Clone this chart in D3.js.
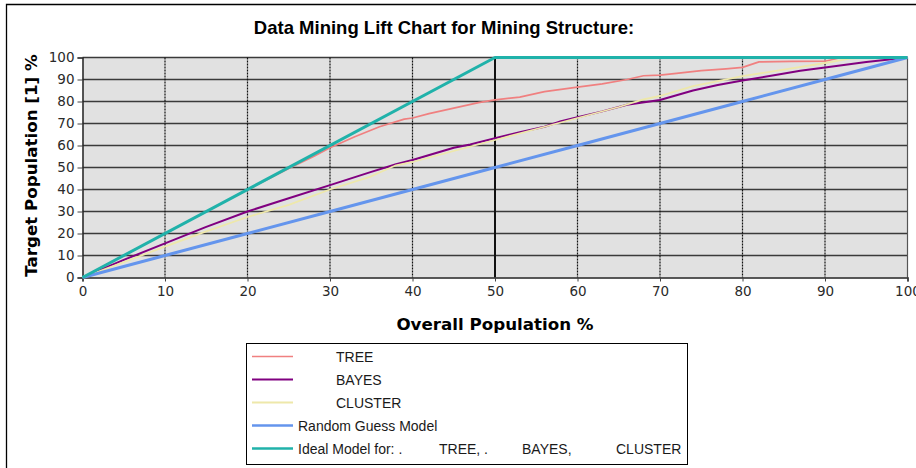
<!DOCTYPE html>
<html>
<head>
<meta charset="utf-8">
<script src="https://cdn.jsdelivr.net/npm/d3@7"></script>
<style>
  html, body { margin: 0; padding: 0; background: #fff; }
  svg { display: block; }
</style>
</head>
<body>
<div id="chart"></div>
<script>
// lift chart data: overall population % -> target population %
const treeX = [0, 5, 10, 15, 20, 25, 28, 30, 33, 36, 39, 40, 42, 45, 48, 50, 53, 56, 60, 63, 66, 68, 70, 72, 75, 78, 80, 82, 86, 90, 92, 100];
const treeY = [0, 10, 20, 30, 40, 49.5, 55, 59, 64, 68.5, 72, 72.5, 74.5, 77, 79.5, 80.7, 82, 84.5, 86.5, 88, 90, 91.7, 92, 92.8, 94, 94.8, 95.5, 98, 98.2, 98.3, 100, 100];

const bayesX = [0, 5, 10, 15, 20, 25, 30, 35, 38, 40, 45, 47, 50, 53, 56, 58, 60, 63, 66, 70, 74, 77, 80, 84, 87, 90, 95, 100];
const bayesY = [0, 8, 15.5, 23, 30, 36, 42, 48, 51.5, 53.4, 59, 60.5, 63.3, 66, 68.5, 71, 72.8, 75.5, 78.5, 80.7, 85, 87.5, 89.5, 92, 94, 95.5, 98, 100];

const clusterX = [0, 5, 10, 15, 20, 25, 30, 35, 38, 40, 45, 50, 55, 60, 65, 68, 70, 74, 80, 85, 90, 93, 96, 100];
const clusterY = [0, 7, 14, 21, 27.5, 33, 40, 46, 51, 52.5, 57.5, 62.5, 67.5, 72.5, 77.5, 81, 82.5, 87, 91.5, 94.5, 97.5, 99.5, 100, 100];

const randomX = [0, 10, 20, 30, 40, 50, 60, 70, 80, 90, 100];
const randomY = [0, 10, 20, 30, 40, 50, 60, 70, 80, 90, 100];

const idealX = [0, 50, 100];
const idealY = [0, 100, 100];

const ticks = [0, 10, 20, 30, 40, 50, 60, 70, 80, 90, 100];

const zip = (xs, ys) => xs.map((x, i) => [x, ys[i]]);

const series = [
  { name: "TREE", points: zip(treeX, treeY), color: "#f08080", width: 1.7 },
  { name: "BAYES", points: zip(bayesX, bayesY), color: "#800080", width: 2 },
  { name: "CLUSTER", points: zip(clusterX, clusterY), color: "#eee8aa", width: 1.8 },
  { name: "Random Guess Model", points: zip(randomX, randomY), color: "#6495ed", width: 3 },
  { name: "Ideal Model for", points: zip(idealX, idealY), color: "#20b2aa", width: 3 },
];

const width = 916;
const height = 468;
const margin = { top: 57.5, right: 8.5, bottom: 190.5, left: 82.5 };

const svg = d3.select("#chart").append("svg")
  .attr("width", width)
  .attr("height", height);

// outer frame (top + left only are visible)
svg.append("path")
  .attr("d", `M6.5,${height} V4.5 H${width}`)
  .attr("fill", "none")
  .attr("stroke", "#000")
  .attr("stroke-width", 1.3);

const x = d3.scaleLinear().domain([0, 100]).range([margin.left, width - margin.right]);
const y = d3.scaleLinear().domain([0, 100]).range([height - margin.bottom, margin.top]);

svg.append("rect")
  .attr("x", x(0))
  .attr("y", y(100))
  .attr("width", x(100) - x(0))
  .attr("height", y(0) - y(100))
  .attr("fill", "#e1e1e1");

// horizontal grid
svg.append("g")
  .selectAll("line")
  .data(ticks.filter((t) => t > 0))
  .join("line")
  .attr("x1", x(0))
  .attr("x2", x(100))
  .attr("y1", (d) => y(d))
  .attr("y2", (d) => y(d))
  .attr("stroke", "#3a3a3a")
  .attr("stroke-width", 1.4);

// vertical grid, dotted
svg.append("g")
  .selectAll("line")
  .data(ticks.filter((t) => t > 0))
  .join("line")
  .attr("x1", (d) => x(d))
  .attr("x2", (d) => x(d))
  .attr("y1", y(100))
  .attr("y2", y(0))
  .attr("stroke", (d) => (d === 100 ? "#555" : "#111"))
  .attr("stroke-width", (d) => (d === 50 ? 2 : 1.2))
  .attr("stroke-dasharray", (d) => (d === 50 || d === 100 ? null : "2,1"));

const yAxis = svg.append("g")
  .attr("transform", `translate(${x(0)},0)`)
  .call(d3.axisLeft(y).tickValues(ticks).tickSize(5).tickPadding(3));

const xAxis = svg.append("g")
  .attr("transform", `translate(0,${y(0)})`)
  .call(d3.axisBottom(x).tickValues(ticks).tickSize(4).tickPadding(5));

[xAxis, yAxis].forEach((axis) => {
  axis.select(".domain").attr("stroke", "#222").attr("stroke-width", 1.5);
  axis.selectAll(".tick line").attr("stroke", "#444");
  axis.selectAll(".tick text")
    .attr("fill", "#2a2a2a")
    .style("font-family", "DejaVu Sans, Verdana, sans-serif")
    .style("font-size", "13.5px");
});

const line = d3.line()
  .x((d) => x(d[0]))
  .y((d) => y(d[1]));

svg.append("g")
  .selectAll("path")
  .data(series)
  .join("path")
  .attr("d", (s) => line(s.points))
  .attr("fill", "none")
  .attr("stroke", (s) => s.color)
  .attr("stroke-width", (s) => s.width)
  .attr("stroke-linejoin", "round");

// titles
svg.append("text")
  .attr("x", 444)
  .attr("y", 34)
  .attr("text-anchor", "middle")
  .style("font-family", "Liberation Sans, Arial, sans-serif")
  .style("font-weight", "bold")
  .style("font-size", "18.5px")
  .text("Data Mining Lift Chart for Mining Structure:");

svg.append("text")
  .attr("transform", `translate(37,${(y(0) + y(100)) / 2 - 2}) rotate(-90)`)
  .attr("text-anchor", "middle")
  .style("font-family", "DejaVu Sans, Verdana, sans-serif")
  .style("font-weight", "bold")
  .style("font-size", "16.7px")
  .text("Target Population [1] %");

svg.append("text")
  .attr("x", x(50))
  .attr("y", 330)
  .attr("text-anchor", "middle")
  .style("font-family", "DejaVu Sans, Verdana, sans-serif")
  .style("font-weight", "bold")
  .style("font-size", "16.7px")
  .text("Overall Population %");

// legend
const legend = svg.append("g");
legend.append("rect")
  .attr("x", 246.5)
  .attr("y", 343.5)
  .attr("width", 441)
  .attr("height", 121)
  .attr("fill", "#fff")
  .attr("stroke", "#000")
  .attr("stroke-width", 1);

const legendRows = [
  { s: series[0], parts: [["TREE", 336]] },
  { s: series[1], parts: [["BAYES", 336]] },
  { s: series[2], parts: [["CLUSTER", 336]] },
  { s: series[3], parts: [["Random Guess Model", 298]] },
  { s: series[4], parts: [["Ideal Model for: .", 298], ["TREE, .", 439], ["BAYES,", 522], ["CLUSTER", 616]] },
];

const rowY = d3.scalePoint().domain(d3.range(legendRows.length)).range([356.5, 448.5]);

legendRows.forEach((row, i) => {
  const cy = rowY(i);
  legend.append("line")
    .attr("x1", 252)
    .attr("x2", 293)
    .attr("y1", cy)
    .attr("y2", cy)
    .attr("stroke", row.s.color)
    .attr("stroke-width", Math.min(row.s.width, 2.5));
  row.parts.forEach(([label, lx]) => {
    legend.append("text")
      .attr("x", lx)
      .attr("y", cy + 5)
      .attr("fill", "#1a1a1a")
      .style("font-family", "Liberation Sans, Arial, sans-serif")
      .style("font-size", "14px")
      .text(label);
  });
});
</script>
</body>
</html>
